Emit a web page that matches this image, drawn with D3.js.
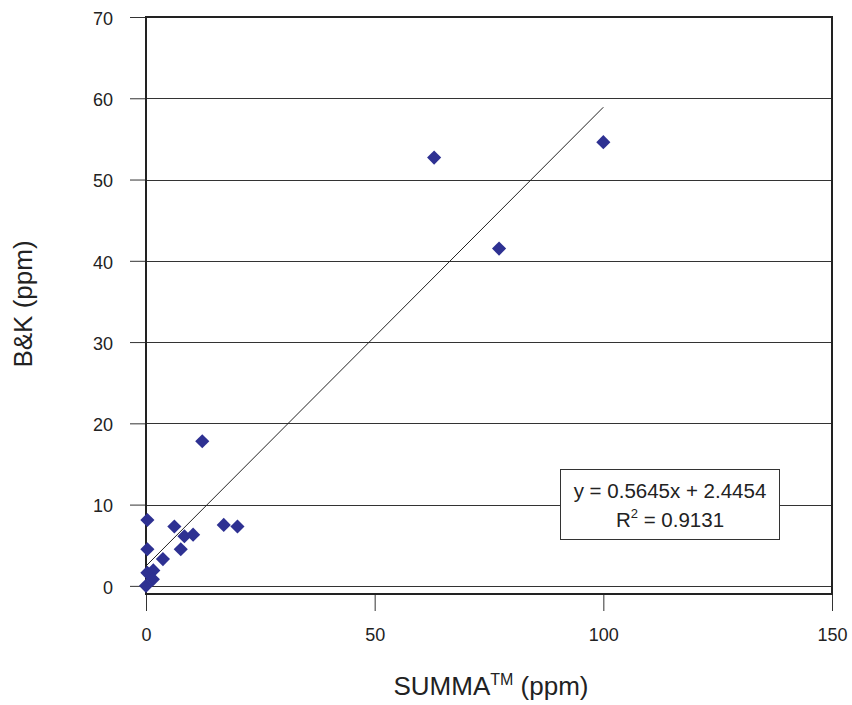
<!DOCTYPE html>
<html>
<head>
<meta charset="utf-8">
<script src="https://cdn.jsdelivr.net/npm/d3@7"></script>
<style>
  body { margin: 0; background: #fff; }
  svg { display: block; font-family: "Liberation Sans", Arial, sans-serif; }
</style>
</head>
<body>
<svg id="chart" width="852" height="705"></svg>
<script>
// Paired measurements: SUMMA canister vs. B&K analyzer (ppm)
const summa = [100, 63, 77.2, 12.3, 0.3, 6.2, 17, 20, 8.4, 10.3, 0.3, 7.6, 3.7, 0.3, 1.6, 1.5, 0];
const bk    = [54.6, 52.7, 41.5, 17.8, 8.1, 7.3, 7.5, 7.3, 6.1, 6.3, 4.5, 4.5, 3.3, 1.6, 1.9, 0.8, 0];

// Linear fit reported on the chart
const slope = 0.5645;
const intercept = 2.4454;
const r2 = 0.9131;
const fitRange = [0, 100];

const xTicks = [0, 50, 100, 150];
const yTicks = [0, 10, 20, 30, 40, 50, 60, 70];

const svg = d3.select("#chart");

const x = d3.scaleLinear().domain([0, 150]).range([146, 832]);
const y = d3.scaleLinear().domain([-1, 70]).range([594, 17]);

// Horizontal gridlines
svg.append("g")
  .selectAll("line")
  .data(yTicks.filter(d => d < 70))
  .join("line")
  .attr("x1", x(0)).attr("x2", x(150))
  .attr("y1", d => Math.round(y(d)) + 0.5).attr("y2", d => Math.round(y(d)) + 0.5)
  .attr("stroke", "#333").attr("stroke-width", 1);

// Y axis: ticks outward to the left
const yAxis = d3.axisLeft(y).tickValues(yTicks).tickSize(16).tickPadding(17).tickFormat(d3.format("d"));
const gy = svg.append("g").attr("transform", `translate(${x(0)},0)`).call(yAxis);
gy.select(".domain").remove();
gy.selectAll(".tick line").attr("stroke", "#333");
gy.selectAll(".tick text").attr("font-size", 18).attr("fill", "#222")
  .attr("font-family", "Liberation Sans, Arial, sans-serif").attr("dy", "0.4em");

// X axis: ticks outward below the frame
const xAxis = d3.axisBottom(x).tickValues(xTicks).tickSize(17).tickPadding(12).tickFormat(d3.format("d"));
const gx = svg.append("g").attr("transform", `translate(0,${y(-1)})`).call(xAxis);
gx.select(".domain").remove();
gx.selectAll(".tick line").attr("stroke", "#333");
gx.selectAll(".tick text").attr("font-size", 18).attr("fill", "#222")
  .attr("font-family", "Liberation Sans, Arial, sans-serif").attr("dy", "1.0em");

// Plot frame
svg.append("rect")
  .attr("x", x(0)).attr("y", y(70))
  .attr("width", x(150) - x(0)).attr("height", y(-1) - y(70))
  .attr("fill", "none").attr("stroke", "#222").attr("stroke-width", 2);

// Trend line
svg.append("line")
  .attr("x1", x(fitRange[0])).attr("y1", y(slope * fitRange[0] + intercept))
  .attr("x2", x(fitRange[1])).attr("y2", y(slope * fitRange[1] + intercept))
  .attr("stroke", "#222").attr("stroke-width", 1);

// Diamond markers
const diamond = d3.symbol().type(d3.symbolSquare).size(100);
svg.append("g")
  .selectAll("path")
  .data(summa.map((v, i) => [v, bk[i]]))
  .join("path")
  .attr("d", diamond)
  .attr("transform", d => `translate(${x(d[0])},${y(d[1])}) rotate(45)`)
  .attr("fill", "#2e3192");

// Equation box
const box = svg.append("g");
box.append("rect")
  .attr("x", 560.5).attr("y", 469.5).attr("width", 219).attr("height", 70)
  .attr("fill", "#fff").attr("stroke", "#333").attr("stroke-width", 1);
box.append("text")
  .attr("x", 670).attr("y", 498).attr("text-anchor", "middle")
  .attr("font-size", 20.5).attr("fill", "#222")
  .text(`y = ${slope}x + ${intercept}`);
const r2t = box.append("text")
  .attr("x", 670).attr("y", 527).attr("text-anchor", "middle")
  .attr("font-size", 20.5).attr("fill", "#222");
r2t.append("tspan").text("R");
r2t.append("tspan").attr("font-size", 13).attr("dy", -9).text("2");
r2t.append("tspan").attr("dy", 9).text(` = ${r2}`);

// Axis titles
const xt = svg.append("text")
  .attr("x", 491).attr("y", 695).attr("text-anchor", "middle")
  .attr("font-size", 26).attr("fill", "#222");
xt.append("tspan").text("SUMMA");
xt.append("tspan").attr("font-size", 16).attr("dy", -10).text("TM");
xt.append("tspan").attr("dy", 10).text(" (ppm)");

svg.append("text")
  .attr("transform", "translate(32,304) rotate(-90)")
  .attr("text-anchor", "middle")
  .attr("font-size", 26).attr("fill", "#222")
  .text("B&K (ppm)");
</script>
</body>
</html>
